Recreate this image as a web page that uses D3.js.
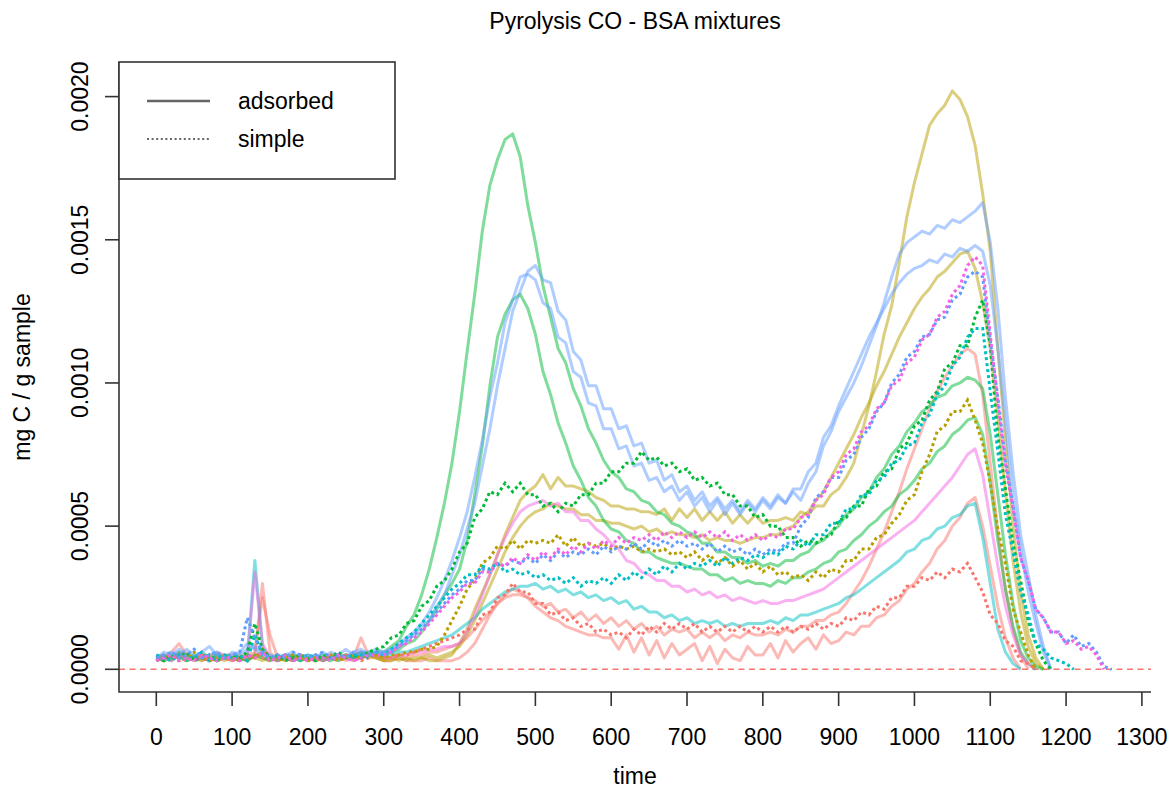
<!DOCTYPE html>
<html>
<head>
<meta charset="utf-8">
<script src="https://cdn.jsdelivr.net/npm/d3@7"></script>
<style>
  body { margin: 0; background: #fff; }
  text { font-family: "Liberation Sans", Arial, sans-serif; fill: #000; }
</style>
</head>
<body>
<svg id="chart" width="1176" height="796"></svg>
<script>
// Pyrolysis CO release of BSA mixtures: adsorbed (solid) vs simple (dotted) preparations.
// Every series is sampled every 10 s starting at t = 0; values in units of 1e-5 mg C / g sample.
const sampleStep = 10;
const valueUnit = 1e-5;

const xTicks = [0, 100, 200, 300, 400, 500, 600, 700, 800, 900, 1000, 1100, 1200, 1300];
const yTicks = [0, 0.0005, 0.0010, 0.0015, 0.0020];
const yTickLabels = ["0.0000", "0.0005", "0.0010", "0.0015", "0.0020"];
const legendLabels = ["adsorbed", "simple"];
const groups = ["1", "2", "3", "4", "5", "6"];

// ---- adsorbed mixtures ----
const adsorbed1a = [
  3,4,6,9,5,4,3,4,3,4, 3,4,3,5,30,6,3,4,3,4, 3,4,3,4,4,3,4,11,5,4,
  3,3,4,3,3,3,4,3,3,3, 4,6,9,14,19,23,26,28,27,25, 22,20,18,17,15,14,13,12,12,11,
  11,7,12,6,11,5,10,4,9,5, 7,9,3,8,2,7,4,3,8,5, 5,9,4,10,6,9,11,7,12,9,
  10,13,12,15,15,18,19,22,24,28, 30,34,37,42,45,50,53,58,60,50, 36,22,11,4,0
];
const adsorbed1b = [
  4,5,4,6,5,4,5,4,6,5, 5,4,5,6,25,12,4,5,4,5, 4,5,4,5,4,5,5,6,5,5,
  4,4,5,4,5,5,6,6,7,8, 9,11,14,17,20,23,25,26,26,25, 24,22,23,20,21,18,20,17,19,16,
  18,15,17,14,16,13,15,12,14,13, 14,11,13,11,13,10,12,11,13,12, 12,13,12,14,13,15,15,17,17,19,
  20,23,27,31,36,42,48,55,62,70, 77,84,91,97,102,106,110,112,110,96, 72,48,28,14,5,0
];
const adsorbed2a = [
  3,4,4,5,3,4,3,5,4,3, 4,4,3,5,4,3,4,3,4,5, 3,4,3,4,3,4,4,5,4,4,
  3,4,3,4,3,4,3,3,4,5, 9,14,21,27,33,40,47,53,59,62, 64,68,63,67,64,64,63,62,60,59,
  57,57,56,56,55,55,54,56,52,56, 53,56,52,55,52,55,51,54,51,54, 51,52,52,53,52,55,54,57,57,61,
  63,67,72,82,92,104,117,127,142,158, 170,180,190,194,197,202,199,193,183,166, 146,112,80,50,27,12,4,0
];
const adsorbed2b = [
  4,3,4,4,5,3,4,4,3,4, 3,5,4,4,3,4,4,3,5,4, 4,3,4,4,5,4,3,4,5,4,
  3,3,4,3,4,4,5,4,5,6, 8,12,17,23,29,35,41,46,50,53, 55,56,58,57,56,56,54,54,52,52,
  51,51,50,49,50,48,49,47,48,47, 47,46,47,45,46,45,45,44,45,46, 46,47,47,49,50,53,55,59,62,67,
  72,77,82,88,93,99,104,110,116,121, 126,130,133,137,139,142,145,146,140,128, 112,88,62,38,20,8,2,0
];
const adsorbed3a = [
  4,5,3,6,4,5,4,3,5,4, 4,3,5,4,6,4,3,4,5,3, 4,4,5,3,4,5,4,6,5,6,
  6,8,10,15,19,26,35,46,58,72, 90,111,131,153,169,178,185,187,179,162, 149,134,123,112,107,98,92,84,79,73,
  69,67,63,62,59,58,55,54,51,50, 48,47,44,44,41,41,39,39,37,38, 36,37,36,38,38,40,41,44,45,48,
  50,54,56,60,62,67,70,75,78,83, 86,90,92,95,96,99,100,102,101,98, 82,61,40,23,10,4,1,0
];
const adsorbed3b = [
  3,4,5,4,3,4,6,4,3,5, 4,4,3,5,4,3,4,5,4,3, 5,4,3,4,4,5,4,5,6,5,
  5,6,7,9,10,13,17,21,26,30, 35,45,61,78,99,116,124,129,131,126, 117,104,96,86,79,71,66,60,57,52,
  49,48,45,44,41,41,39,38,37,37, 36,35,35,33,33,31,32,30,31,30, 30,29,31,30,32,32,34,35,37,38,
  41,42,45,47,50,52,55,57,61,63, 66,70,72,76,78,82,84,87,88,82, 65,45,28,15,6,2,0
];
const adsorbed4 = [
  4,3,4,5,3,4,4,3,5,4, 4,3,4,38,8,4,3,4,4,3, 4,3,4,4,3,5,4,4,5,5,
  5,5,6,6,7,8,9,10,11,12, 14,16,18,21,23,25,27,28,29,29, 30,28,29,27,28,26,27,25,26,24,
  25,23,24,21,22,20,20,18,19,17, 18,16,17,16,17,15,16,15,16,16, 16,17,16,18,17,19,19,20,21,22,
  23,25,26,28,30,32,34,36,38,41, 42,45,46,49,50,53,54,57,58,46, 30,14,6,2,0
];
const adsorbed5a = [
  4,6,5,7,5,4,6,8,5,4, 5,6,9,7,5,4,5,4,3,4, 5,4,6,4,5,7,5,6,6,7,
  6,7,8,10,12,15,17,22,26,33, 40,49,58,71,84,99,112,125,132,139, 141,136,135,125,122,111,108,99,99,91,
  91,84,85,78,79,72,73,66,68,62, 64,59,62,57,60,56,59,55,59,56, 60,57,61,58,62,59,65,69,78,83,
  90,95,100,106,113,120,128,137,145,149, 151,153,152,155,154,157,156,158,160,163, 149,126,95,69,47,33,19,8,0
];
const adsorbed5b = [
  5,4,6,5,7,5,4,5,6,4, 6,5,7,8,6,5,4,5,6,4, 4,5,4,6,5,4,6,7,5,6,
  6,7,9,11,13,16,20,25,31,38, 46,55,67,80,95,107,121,129,137,138, 136,128,126,116,114,104,102,93,92,84,
  84,77,78,71,72,66,67,62,64,59, 62,57,60,55,59,54,58,54,58,55, 59,56,60,58,63,63,69,72,81,85,
  92,98,104,110,116,121,126,131,135,138, 140,141,143,142,145,144,147,146,148,146, 134,112,86,60,42,27,16,6,0
];
const adsorbed6 = [
  3,4,3,5,4,3,4,3,4,5, 3,4,4,34,9,4,3,4,3,4, 3,4,3,5,4,4,3,4,5,5,
  4,4,5,5,6,6,7,7,8,8, 9,13,19,26,33,40,46,51,55,57, 58,59,57,58,55,55,52,52,49,47,
  44,42,38,37,34,33,31,31,29,29, 27,28,26,27,25,26,24,25,24,23, 24,23,23,24,24,25,26,27,28,30,
  32,34,36,38,40,42,44,46,48,50, 52,55,58,61,64,67,71,75,77,68, 52,36,22,12,5,2,0
];

// ---- simple mixtures ----
const simple1 = [
  4,3,5,4,3,4,5,3,4,4, 3,4,4,5,4,3,4,4,3,5, 4,3,4,4,3,5,4,3,4,5,
  4,4,5,5,6,7,8,9,10,11, 12,14,14,19,20,25,26,30,27,27, 23,23,19,20,17,18,15,16,13,14,
  12,13,11,14,12,15,13,16,14,16, 14,16,13,15,13,15,13,15,13,15, 13,15,13,15,13,15,14,16,14,16,
  15,18,17,20,19,22,21,25,25,29, 29,32,31,34,32,35,34,37,32,27, 19,16,10,8,3,2,0
];
const simple2 = [
  3,5,4,3,4,6,4,3,4,5, 4,3,5,4,7,4,3,4,5,4, 3,4,4,5,3,4,5,4,5,5,
  4,5,5,6,6,7,7,8,12,17, 22,28,31,37,39,43,42,45,42,45, 44,45,44,47,43,46,43,44,43,44,
  42,43,42,43,41,42,41,42,40,41, 39,41,38,40,37,39,36,38,35,37, 34,36,33,34,32,33,31,34,32,35,
  34,38,38,42,42,46,47,51,54,59, 61,69,75,83,85,90,90,94,87,79, 65,49,37,21,13,5,0
];
const simple3 = [
  4,3,5,4,6,3,4,5,3,4, 5,4,6,16,7,4,5,3,4,5, 4,3,5,4,6,4,5,4,6,7,
  8,11,12,16,17,22,24,29,31,35, 41,44,53,56,62,61,65,62,65,61, 61,57,58,55,58,57,61,61,65,65,
  69,69,72,72,76,73,74,71,72,69, 70,66,67,64,65,61,61,57,57,53, 54,50,50,46,46,43,45,44,46,47,
  52,53,57,57,63,64,69,70,77,79, 85,87,94,97,105,107,113,113,123,129, 113,81,63,44,31,17,9,3,0
];
const simple4 = [
  5,4,3,5,4,4,6,3,4,5, 4,5,3,12,5,4,4,5,3,4, 5,4,4,3,5,4,5,5,4,6,
  5,7,9,11,13,16,19,22,25,28, 30,33,33,36,35,37,34,35,33,34, 32,33,31,32,30,32,29,31,30,32,
  30,33,31,34,32,35,33,36,34,37, 35,37,36,38,36,39,37,39,38,40, 39,41,40,43,42,45,43,47,47,51,
  51,56,56,61,61,66,67,72,73,78, 79,86,89,96,99,106,109,116,119,119, 97,76,54,41,27,19,9,7,4,3,2,0
];
const simple5 = [
  4,5,6,4,5,7,4,5,6,4, 5,6,18,11,6,4,5,4,6,5, 4,5,6,4,5,4,6,5,5,6,
  5,6,8,10,12,14,17,20,23,26, 28,31,31,35,34,37,36,38,37,39, 37,40,38,41,39,41,40,42,40,43,
  41,43,42,44,42,45,43,45,43,45, 43,44,42,44,41,43,41,42,40,42, 40,42,41,44,44,50,53,60,62,67,
  67,73,75,81,84,90,93,100,103,109, 111,116,117,122,123,129,131,137,139,137,
  115,95,73,57,39,31,21,18,13,13, 9,12,8,9,6,1,0
];
const simple6 = [
  3,4,5,3,4,3,5,4,3,4, 4,3,5,4,6,3,4,5,3,4, 3,4,4,3,5,4,3,4,5,5,
  5,6,8,9,11,13,16,19,22,25, 27,30,30,34,34,37,36,39,37,40, 38,41,39,42,40,43,41,44,42,45,
  43,46,44,46,45,47,45,48,46,48, 46,48,46,48,46,48,45,47,45,47, 45,47,46,49,49,53,54,59,61,67,
  69,75,77,83,85,91,93,99,101,107, 109,115,117,123,125,131,134,141,144,141,
  117,93,71,56,39,31,21,18,13,13, 9,10,7,8,5,0
];

const adsorbedSeries = [
  { group: "1", values: adsorbed1a }, { group: "1", values: adsorbed1b },
  { group: "2", values: adsorbed2a }, { group: "2", values: adsorbed2b },
  { group: "3", values: adsorbed3a }, { group: "3", values: adsorbed3b },
  { group: "4", values: adsorbed4 },
  { group: "5", values: adsorbed5a }, { group: "5", values: adsorbed5b },
  { group: "6", values: adsorbed6 }
];
const simpleSeries = [
  { group: "1", values: simple1 }, { group: "2", values: simple2 },
  { group: "3", values: simple3 }, { group: "4", values: simple4 },
  { group: "5", values: simple5 }, { group: "6", values: simple6 }
];

// ---- layout ----
const svg = d3.select("#chart");
const plot = { left: 119, right: 1151, top: 62, bottom: 692 };
const x = d3.scaleLinear().domain([0, 1300]).range([156.3, 1141.9]);
const y = d3.scaleLinear().domain([0, 0.002]).range([669.3, 96.6]);
const color = d3.scaleOrdinal()
  .domain(groups)
  .range(["#F8766D", "#B79F00", "#00BA38", "#00BFC4", "#619CFF", "#F564E3"]);

const line = d3.line()
  .x((d, i) => x(i * sampleStep))
  .y(d => y(d * valueUnit));

// zero reference line
svg.append("line")
  .attr("x1", plot.left).attr("x2", plot.right)
  .attr("y1", y(0)).attr("y2", y(0))
  .attr("stroke", "#F8766D").attr("stroke-width", 1.5)
  .attr("stroke-dasharray", "6,4.5");

// adsorbed: translucent solid lines
svg.append("g").selectAll("path")
  .data(adsorbedSeries)
  .join("path")
  .attr("d", d => line(d.values))
  .attr("fill", "none")
  .attr("stroke", d => color(d.group))
  .attr("stroke-opacity", 0.5)
  .attr("stroke-width", 3)
  .attr("stroke-linejoin", "round");

// simple: dotted lines
svg.append("g").selectAll("path")
  .data(simpleSeries)
  .join("path")
  .attr("d", d => line(d.values))
  .attr("fill", "none")
  .attr("stroke", d => color(d.group))
  .attr("stroke-width", 3)
  .attr("stroke-dasharray", "3,3");

// L-shaped frame
svg.append("path")
  .attr("d", `M${plot.left},${plot.top}V${plot.bottom}H${plot.right}`)
  .attr("fill", "none").attr("stroke", "#333").attr("stroke-width", 1.6);

// x axis ticks and labels
const xg = svg.append("g");
xg.selectAll("line").data(xTicks).join("line")
  .attr("x1", d => x(d)).attr("x2", d => x(d))
  .attr("y1", plot.bottom).attr("y2", plot.bottom + 14)
  .attr("stroke", "#333").attr("stroke-width", 1.6);
xg.selectAll("text").data(xTicks).join("text")
  .attr("x", d => x(d)).attr("y", 745)
  .attr("text-anchor", "middle").attr("font-size", 23)
  .text(d => d);

// y axis ticks and labels
const yg = svg.append("g");
yg.selectAll("line").data(yTicks).join("line")
  .attr("x1", plot.left - 14).attr("x2", plot.left)
  .attr("y1", d => y(d)).attr("y2", d => y(d))
  .attr("stroke", "#333").attr("stroke-width", 1.6);
yg.selectAll("text").data(yTicks).join("text")
  .attr("transform", d => `translate(88,${y(d)}) rotate(-90)`)
  .attr("text-anchor", "middle").attr("font-size", 23)
  .text((d, i) => yTickLabels[i]);

// titles
const cx = (plot.left + plot.right) / 2;
svg.append("text").attr("x", cx).attr("y", 29)
  .attr("text-anchor", "middle").attr("font-size", 23)
  .text("Pyrolysis CO - BSA mixtures");
svg.append("text").attr("x", cx).attr("y", 784)
  .attr("text-anchor", "middle").attr("font-size", 23)
  .text("time");
svg.append("text")
  .attr("transform", `translate(30,${(plot.top + plot.bottom) / 2}) rotate(-90)`)
  .attr("text-anchor", "middle").attr("font-size", 23)
  .text("mg C / g sample");

// legend
const lg = svg.append("g");
lg.append("rect")
  .attr("x", plot.left).attr("y", plot.top).attr("width", 276).attr("height", 117)
  .attr("fill", "#fff").attr("stroke", "#333").attr("stroke-width", 1.6);
const legendRows = legendLabels.map((label, i) => ({ label, i }));
lg.selectAll("line").data(legendRows).join("line")
  .attr("x1", 147).attr("x2", 210)
  .attr("y1", d => 101 + d.i * 38).attr("y2", d => 101 + d.i * 38)
  .attr("stroke", "#666").attr("stroke-width", d => d.i === 0 ? 2.6 : 2.2)
  .attr("stroke-dasharray", d => d.i === 0 ? null : "2,2.6");
lg.selectAll("text").data(legendRows).join("text")
  .attr("x", 238).attr("y", d => 109 + d.i * 38)
  .attr("font-size", 23)
  .text(d => d.label);
</script>
</body>
</html>
